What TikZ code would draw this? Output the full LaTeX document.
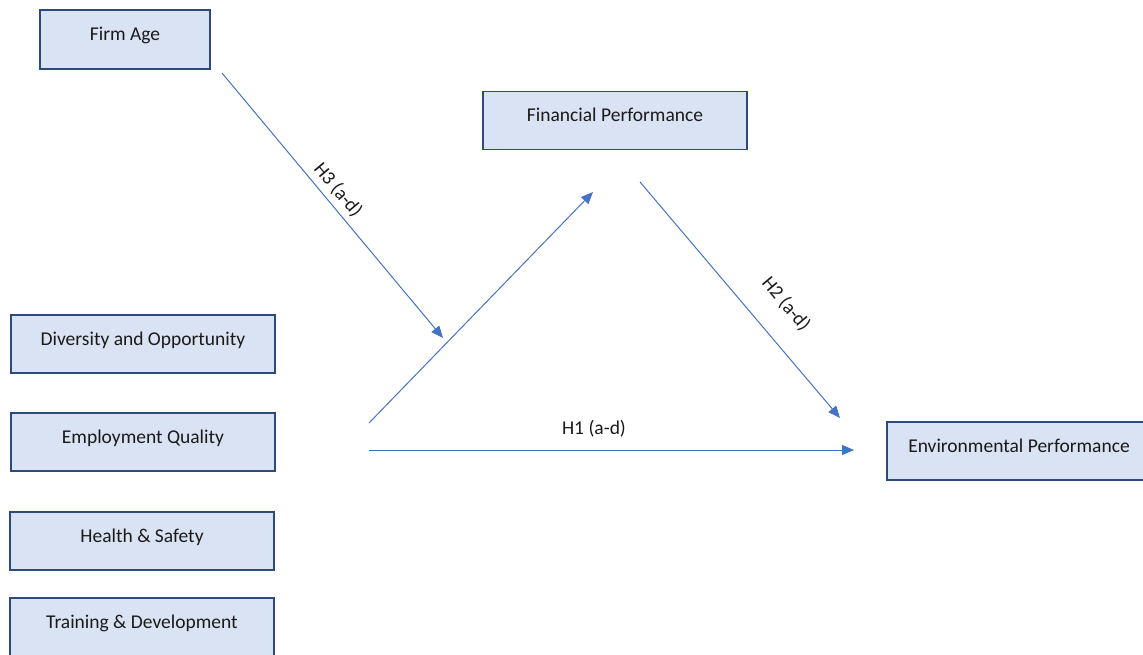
\documentclass[tikz,border=0pt]{standalone}
\usepackage{fontspec}
\setmainfont{Carlito}
\usetikzlibrary{arrows.meta,calc}
\definecolor{boxfill}{HTML}{DAE3F3}
\definecolor{boxline}{HTML}{2E4A7A}
\definecolor{arrowcol}{HTML}{4472C4}
\definecolor{txt}{HTML}{1A1A1A}
\begin{document}
\begin{tikzpicture}[x=1pt,y=-1pt,
  varbox/.style={draw=boxline, fill=boxfill, line width=1.3pt, minimum width=264pt, minimum height=58pt, inner sep=0pt},
  lbl/.style={font=\fontsize{19.5}{23}\selectfont, text=txt, inner sep=0pt, anchor=base},
  hyp/.style={font=\fontsize{19.5}{23}\selectfont, text=txt, inner sep=0pt},
  conn/.style={draw=arrowcol, line width=1pt, -{Triangle[length=12pt,width=10pt]}}
]
\useasboundingbox (0,0) rectangle (1143,654);
% boxes
\node[varbox, minimum width=170pt, minimum height=59pt] (fa) at (125,39.5) {};
\node[varbox] (fp) at (615,120.5) {};
\node[varbox] (div) at (143,344) {};
\node[varbox] (emp) at (143,442) {};
\node[varbox] (hs) at (142,541) {};
\node[varbox] (td) at (142,627) {};
\node[varbox] (env) at (1019,451) {};
% box texts
\node[lbl] (tfa) at ($(fa.north)+(0,31)$) {Firm Age};
\node[lbl] (tfp) at ($(fp.north)+(0,31)$) {Financial Performance};
\node[lbl] (tdiv) at ($(div.north)+(0,31)$) {Diversity and Opportunity};
\node[lbl] (temp) at ($(emp.north)+(0,31)$) {Employment Quality};
\node[lbl] (ths) at ($(hs.north)+(0,31)$) {Health \& Safety};
\node[lbl] (ttd) at ($(td.north)+(0,31)$) {Training \& Development};
\node[lbl] (tenv) at ($(env.north)+(0,31)$) {Environmental Performance};
% connector end points
\coordinate (h3s) at (222,73);
\coordinate (h3e) at (443,338);
\coordinate (ups) at (369,423);
\coordinate (upe) at (593,192);
\coordinate (h2s) at (640,182);
\coordinate (h2e) at (840,418);
\coordinate (h1s) at (369,450);
\coordinate (h1e) at (854,450);
% connectors
\draw[conn] (h3s) -- (h3e);
\draw[conn] (ups) -- (upe);
\draw[conn] (h2s) -- (h2e);
\draw[conn] (h1s) -- (h1e);
% hypothesis labels
\node[hyp, rotate=-50] (lh3) at (338,190) {H3 (a-d)};
\node[hyp, rotate=-50] (lh2) at (786,304) {H2 (a-d)};
\node[hyp] (lh1) at (594,429) {H1 (a-d)};
\end{tikzpicture}
\end{document}
